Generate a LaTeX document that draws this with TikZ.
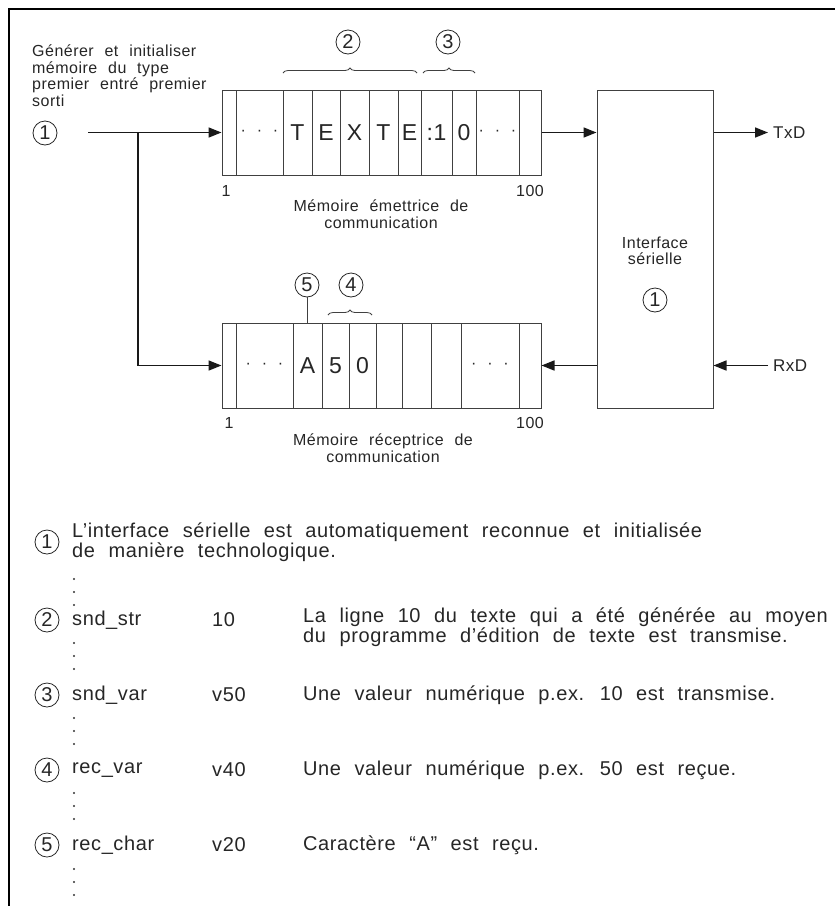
\documentclass[tikz,border=0pt]{standalone}
\usepackage{fontspec}
\setmainfont{Liberation Sans}[LetterSpace=3,WordSpace=2.2]
\newfontfamily\digfont{Liberation Sans}
\usetikzlibrary{arrows.meta,decorations.pathreplacing}
\tikzset{
  lbl/.style={font=\fontsize{16}{16.5}\selectfont, inner sep=0pt, text=black!85},
  tbl/.style={font=\fontsize{20}{18}\selectfont, inner sep=0pt, anchor=west, text=black!85},
  cellt/.style={font=\fontsize{23}{23}\selectfont, inner sep=0pt, text=black!85},
  circ/.style={draw=black!85, circle, line width=0.8pt, minimum size=24pt, inner sep=0pt,
               font=\digfont\fontsize{20}{20}\selectfont, text=black!85},
  membox/.style={draw=black!75, line width=1pt, minimum width=319pt, minimum height=85pt, inner sep=0pt},
  ifcbox/.style={draw=black!75, line width=1pt, minimum width=116pt, minimum height=318pt, inner sep=0pt},
  divider/.style={draw=black!75, line width=0.9pt},
  conn/.style={draw=black!90, line width=1.6pt, -{Triangle[length=13pt,width=10pt]}},
  brc/.style={draw=black!75, decorate, decoration={brace,amplitude=5pt}, line width=0.8pt},
  frame/.style={draw=black, line width=1.5pt},
}
\begin{document}
\begin{tikzpicture}[x=1pt,y=-1pt]
\useasboundingbox (0,0) rectangle (835,906);
\draw[frame] (835,9) -- (9,9) -- (9,906);

% ---------- top-left label
\node[lbl, anchor=north west, align=left] (gen) at (32,45)
  {Générer et initialiser\\mémoire du type\\premier entré premier\\sorti};
\node[circ] (c1a) at (45,133) {1};
\coordinate (start) at (88,132.5);
\coordinate (junc) at (138,132.5);

% ---------- transmit memory
\node[membox] (tx) at (381.5,132.5) {};
\foreach \x in {236,283,312,340,369,398,421,452,476,519}
  \draw[divider] (\x,90) -- (\x,175);
\node[lbl] (txd1) at (259.5,132.5) {· · ·};
\node[cellt] (txT1) at (297.5,133) {T};
\node[cellt] (txE1) at (326,133) {E};
\node[cellt] (txX) at (354.5,133) {X};
\node[cellt] (txT2) at (383.5,133) {T};
\node[cellt] (txE2) at (409.5,133) {E};
\node[cellt] (txc1) at (436.5,133) {:1};
\node[cellt] (tx0) at (464,133) {0};
\node[lbl] (txd2) at (497.5,132.5) {· · ·};
\draw[brc] (283,73) -- (417,73);
\draw[brc] (423,73) -- (475,73);
\node[circ] (c2) at (348,42) {2};
\node[circ] (c3) at (448,42) {3};
\node[lbl] (tx1) at (226,191) {1};
\node[lbl] (tx100) at (530,191) {100};
\node[lbl, align=center] (txcap) at (381,214) {Mémoire émettrice de\\communication};

% ---------- receive memory
\node[membox] (rx) at (381.5,365.5) {};
\foreach \x in {236,293,322,349,376,402,431,461,519}
  \draw[divider] (\x,323) -- (\x,408);
\node[lbl] (rxd1) at (264.5,365.5) {· · ·};
\node[cellt] (rxA) at (307.5,366) {A};
\node[cellt] (rx5) at (335.5,366) {5};
\node[cellt] (rx0) at (362.5,366) {0};
\node[lbl] (rxd2) at (490,365.5) {· · ·};
\draw[brc] (328,315) -- (372,315);
\node[circ] (c5) at (307,285) {5};
\node[circ] (c4) at (351,285) {4};
\draw[divider] (c5.south) -- (c5.south |- rx.north);
\node[lbl] (rx1) at (229,423) {1};
\node[lbl] (rx100) at (530,423) {100};
\node[lbl, align=center] (rxcap) at (383,448) {Mémoire réceptrice de\\communication};

% ---------- interface
\node[ifcbox] (ifc) at (655,249) {};
\node[lbl, align=center] (ifct) at (655,251) {Interface\\sérielle};
\node[circ] (c1b) at (655,300) {1};
\node[lbl, anchor=west, font=\fontsize{17}{17}\selectfont] (txd) at (773,132.5) {TxD};
\node[lbl, anchor=west, font=\fontsize{17}{17}\selectfont] (rxd) at (773,365.5) {RxD};

% ---------- connectors
\draw[conn] (start) -- (tx.west);
\draw[conn] (junc) |- (rx.west);
\draw[conn] (tx.east) -- (tx.east -| ifc.west);
\draw[conn, shorten >=5pt] (tx.east -| ifc.east) -- (txd.west);
\draw[conn] (rx.east -| ifc.west) -- (rx.east);
\draw[conn, shorten <=5pt] (rxd.west) -- (rxd.west -| ifc.east);

% ---------- table
\node[circ] (t1) at (47,542) {1};
\node[tbl, anchor=north west, align=left] (t1d) at (72,523)
  {L’interface sérielle est automatiquement reconnue et initialisée\\de manière technologique.};
\node[circ] (t2) at (47,620) {2};
\node[tbl] (t2n) at (72,620) {snd\_str};
\node[tbl] (t2v) at (212,620) {10};
\node[tbl, anchor=north west, align=left] (t2d) at (303,608)
  {La ligne 10 du texte qui a été générée au moyen\\du programme d’édition de texte est transmise.};
\node[circ] (t3) at (47,695) {3};
\node[tbl] (t3n) at (72,695) {snd\_var};
\node[tbl] (t3v) at (212,695) {v50};
\node[tbl] (t3d) at (303,695) {Une valeur numérique p.ex. 10 est transmise.};
\node[circ] (t4) at (47,770) {4};
\node[tbl] (t4n) at (72,770) {rec\_var};
\node[tbl] (t4v) at (212,770) {v40};
\node[tbl] (t4d) at (303,770) {Une valeur numérique p.ex. 50 est reçue.};
\node[circ] (t5) at (47,845) {5};
\node[tbl] (t5n) at (72,845) {rec\_char};
\node[tbl] (t5v) at (212,845) {v20};
\node[tbl] (t5d) at (303,845) {Caractère “A” est reçu.};
\foreach \y in {579,592,605, 643,656,669, 718,731,744, 793,806,819, 869,882,895}
  \fill[black!80] (74,\y) circle (1.1pt);
\end{tikzpicture}
\end{document}
